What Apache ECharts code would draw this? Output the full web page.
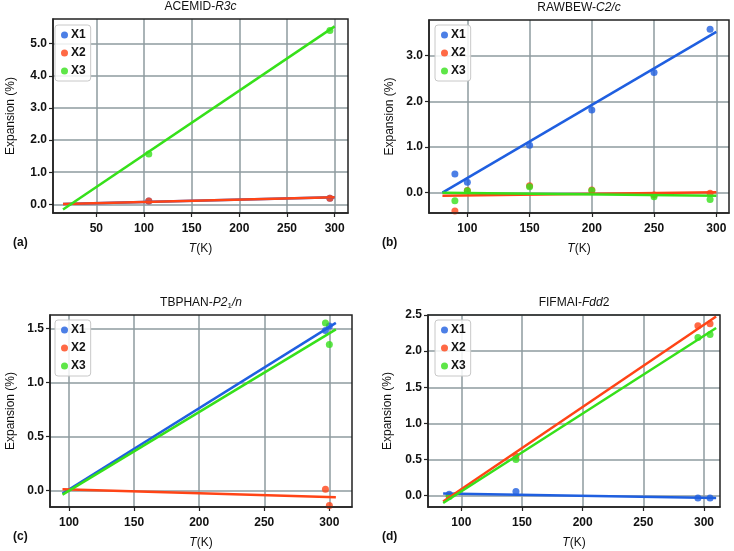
<!DOCTYPE html>
<html><head><meta charset="utf-8">
<script src="https://cdn.jsdelivr.net/npm/echarts@6/dist/echarts.min.js"></script>
<style>html,body{margin:0;padding:0;background:#fff}#c{width:734px;height:551px}</style>
</head><body><div id="c"></div>
<script>
const seriesNames = ['X1', 'X2', 'X3'];
const colors = ['#1f5fe0', '#ff4416', '#36e01a'];

// (a) ACEMID-R3c
const aT = [105, 295];
const aX1 = [0.10, 0.19];
const aX2 = [0.10, 0.19];
const aX3 = [1.57, 5.41];
const aFitT = [15, 300];
const aFitX1 = [0.01, 0.22];
const aFitX2 = [0.01, 0.22];
const aFitX3 = [-0.16, 5.54];
const aXTicks = [50, 100, 150, 200, 250, 300];
const aYTicks = [0, 1, 2, 3, 4, 5];

// (b) RAWBEW-C2/c
const bT = [90, 100, 150, 200, 250, 295];
const bX1 = [0.41, 0.23, 1.04, 1.81, 2.63, 3.58];
const bX2 = [-0.40, 0.05, 0.15, 0.06, -0.05, -0.01];
const bX3 = [-0.175, 0.04, 0.13, 0.05, -0.09, -0.15];
const bFitT = [80, 300];
const bFitX1 = [0.0, 3.52];
const bFitX2 = [-0.07, 0.01];
const bFitX3 = [0.0, -0.065];
const bXTicks = [100, 150, 200, 250, 300];
const bYTicks = [0, 1, 2, 3];

// (c) TBPHAN-P21/n
const cT = [297, 300];
const cX1 = [1.48, 1.52];
const cX2 = [0.01, -0.14];
const cX3 = [1.55, 1.35];
const cFitT = [95, 305];
const cFitX1 = [-0.03, 1.55];
const cFitX2 = [0.01, -0.065];
const cFitX3 = [-0.04, 1.49];
const cXTicks = [100, 150, 200, 250, 300];
const cYTicks = [0, 0.5, 1.0, 1.5];

// (d) FIFMAI-Fdd2
const dT = [90, 145, 295, 305];
const dX1 = [0.02, 0.06, -0.03, -0.03];
const dX2 = [0.0, 0.55, 2.35, 2.38];
const dX3 = [-0.01, 0.50, 2.19, 2.23];
const dFitT = [85, 310];
const dFitX1 = [0.03, -0.03];
const dFitX2 = [-0.08, 2.48];
const dFitX3 = [-0.10, 2.32];
const dXTicks = [100, 150, 200, 250, 300];
const dYTicks = [0, 0.5, 1.0, 1.5, 2.0, 2.5];

const panels = [
  { T: aT, X: [aX1, aX2, aX3], fitT: aFitT, fit: [aFitX1, aFitX2, aFitX3], xt: aXTicks, yt: aYTicks,
    grid: { left: 53, top: 19, width: 295, height: 194 }, xr: [4.5, 314], yr: [-0.27, 5.77],
    title: '{n|ACEMID-}{i|R3c}', letter: '(a)', legend: { left: 55, top: 25 }, yGap: 36 },
  { T: bT, X: [bX1, bX2, bX3], fitT: bFitT, fit: [bFitX1, bFitX2, bFitX3], xt: bXTicks, yt: bYTicks,
    grid: { left: 429, top: 20, width: 300, height: 193 }, xr: [69.2, 310.2], yr: [-0.445, 3.78],
    title: '{n|RAWBEW-}{i|C2/c}', letter: '(b)', legend: { left: 435, top: 25 }, yGap: 33 },
  { T: cT, X: [cX1, cX2, cX3], fitT: cFitT, fit: [cFitX1, cFitX2, cFitX3], xt: cXTicks, yt: cYTicks,
    grid: { left: 50, top: 315, width: 302, height: 192 }, xr: [85.4, 317.4], yr: [-0.155, 1.623],
    title: '{n|TBPHAN-}{i|P2}{s|1}{i|/n}', letter: '(c)', legend: { left: 55, top: 320 }, yGap: 33 },
  { T: dT, X: [dX1, dX2, dX3], fitT: dFitT, fit: [dFitX1, dFitX2, dFitX3], xt: dXTicks, yt: dYTicks,
    grid: { left: 428, top: 315, width: 292, height: 192 }, xr: [72.5, 313.2], yr: [-0.156, 2.5],
    title: '{n|FIFMAI-}{i|Fdd}{n|2}', letter: '(d)', legend: { left: 435, top: 320 }, yGap: 34 }
];

const FONT = '"Liberation Sans", Arial, Helvetica, sans-serif';
const grids = [], xAxes = [], yAxes = [], series = [], legends = [], graphics = [];

panels.forEach((p, i) => {
  grids.push(Object.assign({ containLabel: false, show: false }, p.grid));
  const axisCommon = {
    axisLine: { show: true, onZero: false, lineStyle: { color: '#222', width: 1.5 } },
    splitLine: { show: true, lineStyle: { color: '#8e9b9f', width: 1.5 } }
  };
  xAxes.push(Object.assign({
    type: 'value', gridIndex: i, min: p.xr[0], max: p.xr[1],
    axisTick: { show: true, length: 4, customValues: p.xt, lineStyle: { color: '#222', width: 1.2 } },
    axisLabel: { customValues: p.xt, formatter: v => String(Math.round(v)), color: '#111', fontSize: 12, fontWeight: 'bold', fontFamily: FONT, margin: 10 },
    name: '{i|T}(K)', nameLocation: 'middle', nameGap: 30,
    nameTextStyle: { color: '#111', fontSize: 12, fontFamily: FONT, rich: { i: { fontStyle: 'italic', fontSize: 12, fontFamily: FONT, color: '#111' } } }
  }, axisCommon));
  yAxes.push(Object.assign({
    type: 'value', gridIndex: i, min: p.yr[0], max: p.yr[1],
    axisTick: { show: true, length: 4, customValues: p.yt, lineStyle: { color: '#222', width: 1.2 } },
    axisLabel: { customValues: p.yt, formatter: v => v.toFixed(1), color: '#111', fontSize: 12, fontWeight: 'bold', fontFamily: FONT, margin: 6 },
    name: 'Expansion (%)', nameLocation: 'middle', nameGap: p.yGap,
    nameTextStyle: { color: '#111', fontSize: 12, fontFamily: FONT }
  }, axisCommon));
  for (let k = 0; k < 3; k++) {
    series.push({
      type: 'scatter', name: seriesNames[k], xAxisIndex: i, yAxisIndex: i,
      data: p.T.map((t, j) => [t, p.X[k][j]]), symbolSize: 7,
      itemStyle: { color: colors[k] }
    });
  }
  for (let k = 0; k < 3; k++) {
    series.push({
      type: 'line', name: seriesNames[k], xAxisIndex: i, yAxisIndex: i,
      data: p.fitT.map((t, j) => [t, p.fit[k][j]]), symbol: 'none', showSymbol: false,
      lineStyle: { color: colors[k], width: 2.5 }, itemStyle: { color: colors[k] }
    });
  }
  legends.push({
    left: p.legend.left, top: p.legend.top, orient: 'vertical', icon: 'circle',
    itemWidth: 7, itemHeight: 7, itemGap: 6, data: seriesNames,
    backgroundColor: 'rgba(255,255,255,0.85)', borderColor: '#c8c8c8', borderWidth: 1, borderRadius: 3,
    padding: [4, 5, 4, 6],
    textStyle: { fontSize: 12, fontWeight: 'bold', color: '#111', fontFamily: FONT, padding: [0, 0, 0, -2] }
  });
  const g = p.grid;
  graphics.push({
    type: 'rect', z: 100, silent: true,
    shape: { x: g.left, y: g.top, width: g.width, height: g.height },
    style: { fill: 'none', stroke: '#222', lineWidth: 1.5 }
  });
  graphics.push({
    type: 'text', z: 100, x: g.left + g.width / 2, y: g.top - 12,
    style: {
      text: p.title, align: 'center', verticalAlign: 'middle',
      rich: {
        n: { fontSize: 12, fontFamily: FONT, fill: '#111', lineHeight: 14 },
        i: { fontSize: 12, fontFamily: FONT, fontStyle: 'italic', fill: '#111', lineHeight: 14 },
        s: { fontSize: 8, fontFamily: FONT, fill: '#111', lineHeight: 14, verticalAlign: 'bottom' }
      }
    }
  });
  graphics.push({
    type: 'text', z: 100, x: i % 2 === 0 ? 13 : 382, y: g.top + g.height + 30,
    style: { text: p.letter, fontSize: 12, fontWeight: 'bold', fontFamily: FONT, fill: '#111', align: 'left', verticalAlign: 'middle' }
  });
});

const chart = echarts.init(document.getElementById('c'), null, { renderer: 'canvas' });
chart.setOption({
  animation: false,
  backgroundColor: '#fff',
  grid: grids, xAxis: xAxes, yAxis: yAxes, series: series, legend: legends, graphic: graphics
});
</script>
</body></html>
